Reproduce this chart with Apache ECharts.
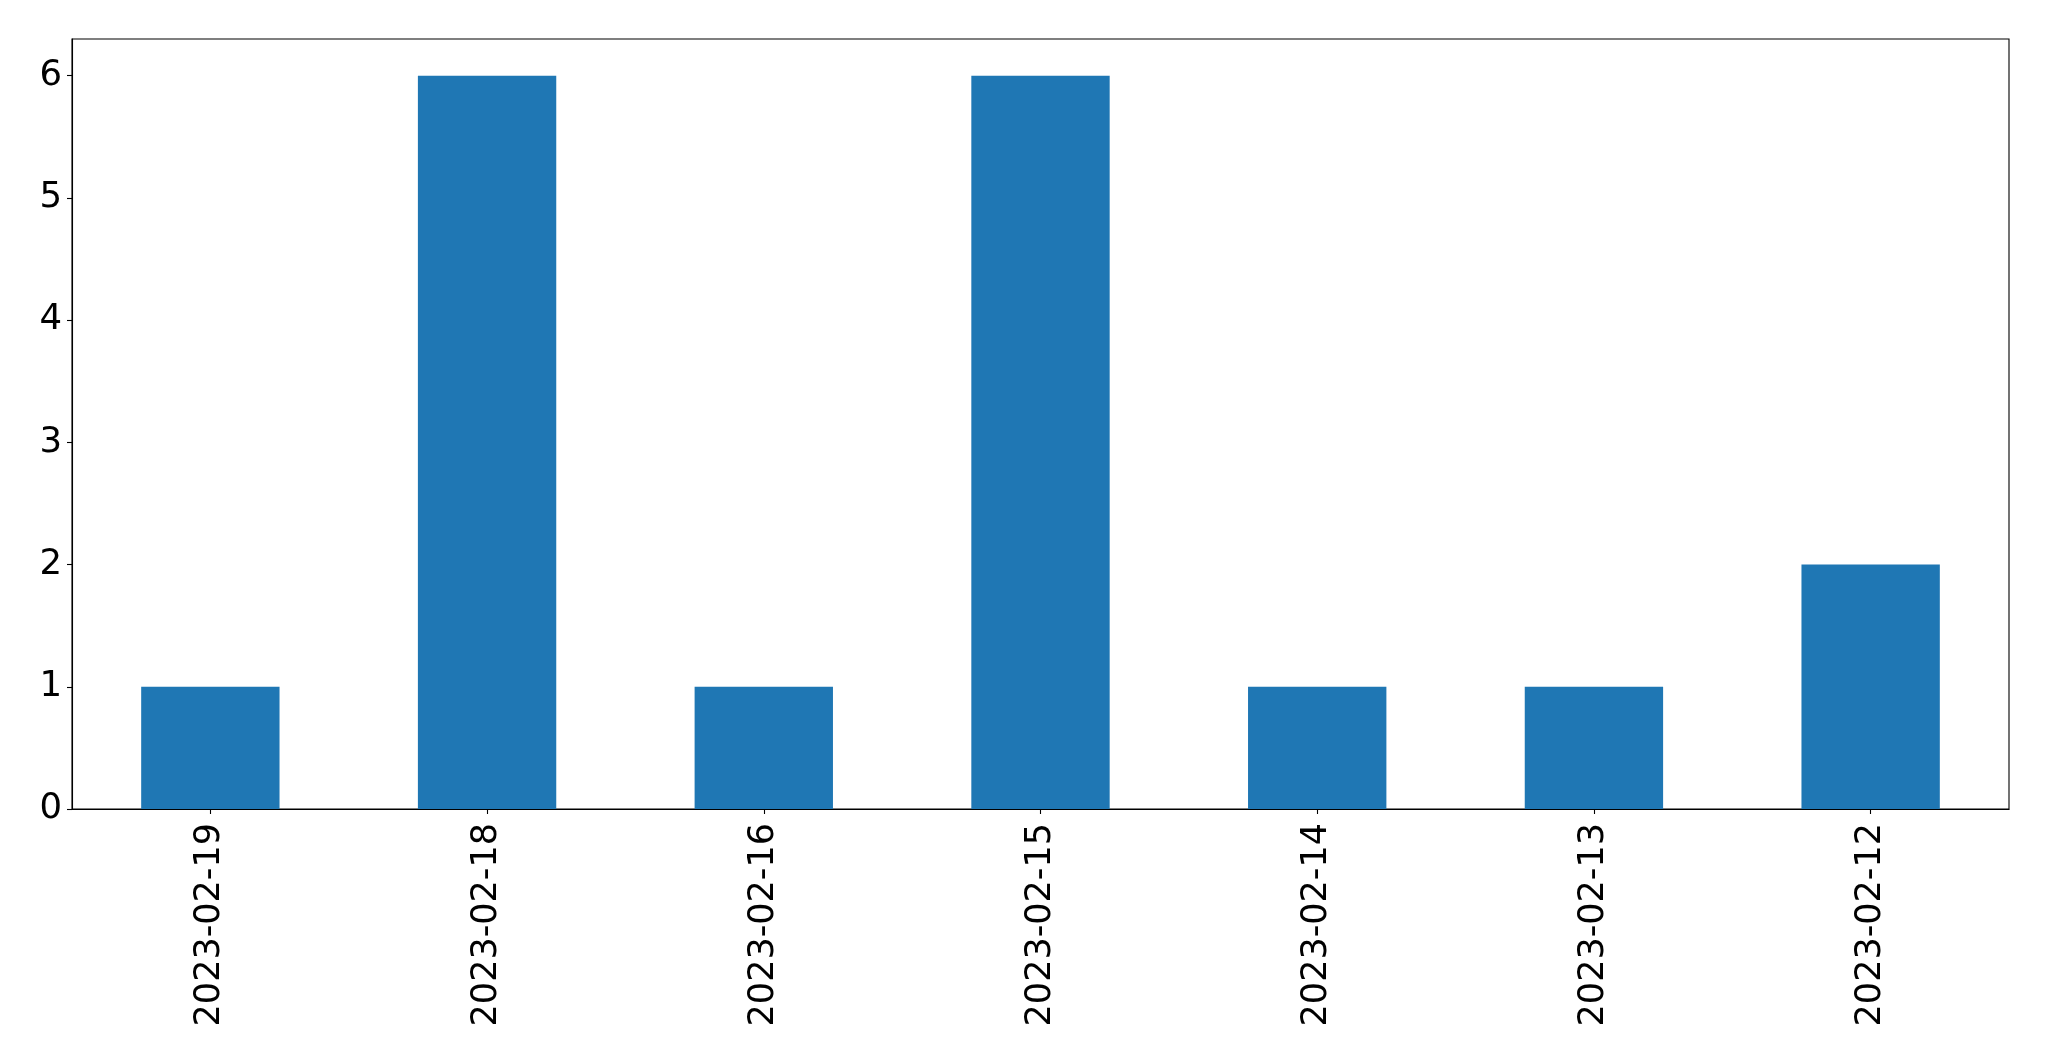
<!DOCTYPE html>
<html>
<head>
<meta charset="utf-8">
<script src="https://cdn.jsdelivr.net/npm/echarts@6/dist/echarts.min.js"></script>
<style>html,body{margin:0;padding:0;background:#fff;}#c{width:2049px;height:1061px;}</style>
</head>
<body>
<div id="c"></div>
<script>
const categories = ['2023-02-19','2023-02-18','2023-02-16','2023-02-15','2023-02-14','2023-02-13','2023-02-12'];
const values = [1, 6, 1, 6, 1, 1, 2];
const yTicks = [0, 1, 2, 3, 4, 5, 6];

const chart = echarts.init(document.getElementById('c'), null, {renderer: 'canvas'});
const font = 'DejaVu Sans';
chart.setOption({
  animation: false,
  backgroundColor: '#ffffff',
  grid: {left: 72, top: 39, width: 1937, height: 770, show: true, borderColor: '#000', borderWidth: 1.1, backgroundColor: 'transparent'},
  xAxis: {
    type: 'category',
    data: categories,
    boundaryGap: true,
    axisLine: {show: true, lineStyle: {color: '#000', width: 1.1}},
    axisTick: {show: true, alignWithLabel: true, length: 5, lineStyle: {color: '#000', width: 1.1}},
    axisLabel: {rotate: 90, margin: 14, fontSize: 35, fontFamily: font, color: '#000', interval: 0},
    splitLine: {show: false}
  },
  yAxis: {
    type: 'value',
    min: 0,
    max: 6.3,
    interval: 1,
    axisLine: {show: true, lineStyle: {color: '#000', width: 1.1}},
    axisTick: {show: true, length: 5, customValues: yTicks, lineStyle: {color: '#000', width: 1.1}},
    axisLabel: {margin: 10, fontSize: 35.5, fontFamily: font, color: '#000', customValues: yTicks},
    splitLine: {show: false}
  },
  series: [{
    type: 'bar',
    data: values,
    barWidth: '50%',
    itemStyle: {color: '#1f77b4'}
  }]
});
</script>
</body>
</html>
